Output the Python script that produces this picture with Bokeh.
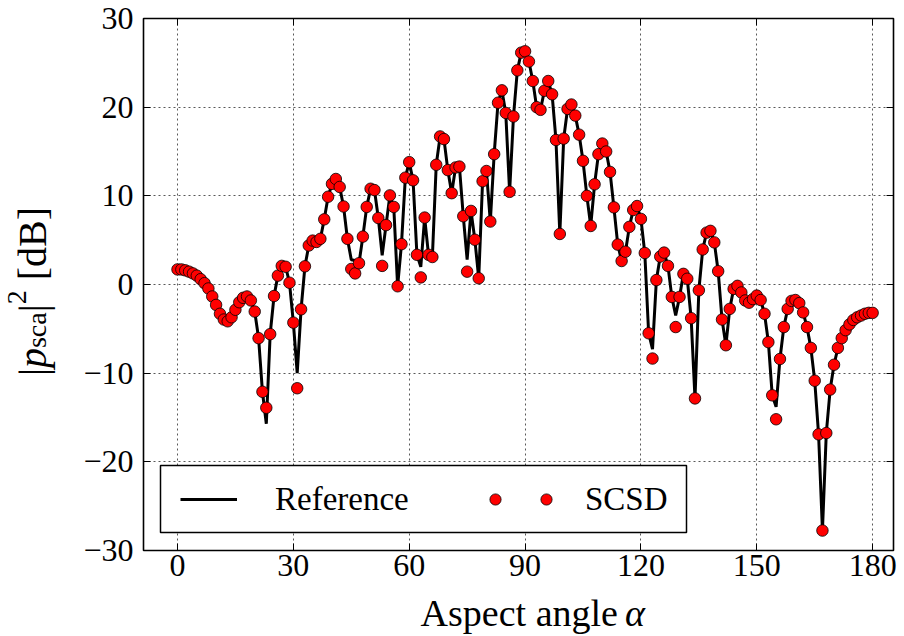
import math
from bokeh.plotting import figure
from bokeh.layouts import row, column
from bokeh.models import (Range1d, LinearAxis, FixedTicker, Label, Legend,
                          LegendItem, BoxAnnotation)
from bokeh.embed import file_html
from bokeh.resources import INLINE

# ---------------- data ----------------
angles = list(range(0, 181))

scsd = [
    1.7, 1.7, 1.6, 1.45, 1.25, 1.0, 0.6, 0.15, -0.45, -1.35,
    -2.3, -3.3, -3.95, -4.15, -3.7, -2.85, -2.0, -1.5, -1.35, -1.8,
    -3.05, -6.05, -12.1, -13.9, -5.6, -1.3, 1.0, 2.1, 2.0, 0.2,
    -4.3, -11.7, -2.8, 2.05, 4.4, 4.95, 4.8, 5.15, 7.35, 9.9,
    11.35, 11.9, 11.0, 8.8, 5.15, 1.75, 1.25, 2.4, 5.4, 8.75,
    10.8, 10.65, 7.5, 2.1, 6.7, 10.05, 8.75, -0.2, 4.55, 12.05,
    13.8, 11.75, 3.35, 0.8, 7.55, 3.35, 3.1, 13.5, 16.7, 16.4,
    12.9, 10.3, 13.2, 13.3, 7.7, 1.45, 8.3, 5.05, 0.7, 11.65,
    12.8, 7.1, 14.7, 20.5, 21.9, 19.35, 10.45, 18.95, 24.15, 26.15,
    26.3, 25.15, 22.95, 20.0, 19.7, 21.85, 22.95, 21.45, 16.3, 5.7,
    16.45, 19.8, 20.3, 19.05, 16.9, 13.95, 10.0, 6.6, 11.3, 14.7,
    15.9, 15.0, 12.7, 8.7, 4.5, 2.65, 3.7, 6.5, 8.4, 8.85,
    7.4, 3.55, -5.5, -8.35, 0.5, 3.15, 3.6, 2.1, -1.4, -4.8,
    -1.4, 1.2, 0.65, -3.8, -12.85, -0.65, 3.95, 5.85, 6.05, 4.75,
    1.5, -3.95, -6.85, -2.75, -0.5, -0.15, -0.9, -1.8, -2.05, -1.65,
    -1.25, -1.75, -3.3, -6.5, -12.5, -15.2, -8.4, -4.8, -2.75, -1.85,
    -1.75, -2.1, -3.15, -4.8, -7.15, -10.85, -16.9, -27.75, -16.75, -11.85,
    -9.05, -7.15, -6.05, -5.15, -4.5, -4.0, -3.7, -3.5, -3.3, -3.2,
    -3.2,
]

reference = [
    1.7, 1.7, 1.6, 1.45, 1.25, 1.0, 0.6, 0.15, -0.45, -1.35,
    -2.3, -3.3, -3.95, -4.15, -3.7, -2.85, -2.0, -1.5, -1.35, -1.8,
    -3.05, -6.05, -12.1, -15.7, -5.6, -1.3, 1.0, 2.1, 2.0, 0.2,
    -4.3, -10.0, -2.8, 2.05, 4.4, 4.95, 4.8, 5.15, 7.35, 9.9,
    11.35, 11.9, 11.0, 8.8, 5.15, 2.8, 2.7, 2.4, 5.4, 8.75,
    10.8, 10.65, 7.5, 3.3, 6.7, 10.05, 8.75, -0.2, 4.55, 12.05,
    13.8, 11.75, 3.35, 2.0, 7.55, 3.35, 3.1, 13.5, 16.7, 16.4,
    12.9, 10.3, 13.2, 13.3, 7.7, 2.8, 8.3, 5.05, 0.7, 11.65,
    12.8, 7.1, 14.7, 20.5, 21.9, 19.35, 10.45, 18.95, 24.15, 26.15,
    26.3, 25.15, 22.95, 20.0, 19.7, 21.85, 22.95, 21.45, 16.3, 5.7,
    16.45, 19.8, 20.3, 19.05, 16.9, 13.95, 10.0, 6.6, 11.3, 14.7,
    15.9, 15.0, 12.7, 8.7, 4.5, 2.65, 3.7, 6.5, 8.4, 8.85,
    7.4, 3.55, -5.5, -7.3, 0.5, 3.15, 3.6, 2.1, -1.4, -3.5,
    -1.4, 1.2, 0.65, -3.8, -12.85, -0.65, 3.95, 5.85, 6.05, 4.75,
    1.5, -3.95, -6.85, -2.75, -0.5, -0.15, -0.9, -1.8, -2.05, -1.65,
    -1.25, -1.75, -3.3, -6.5, -12.5, -13.8, -8.4, -4.8, -2.75, -1.85,
    -1.75, -2.1, -3.15, -4.8, -7.15, -10.85, -16.9, -27.75, -16.75, -11.85,
    -9.05, -7.15, -6.05, -5.15, -4.5, -4.0, -3.7, -3.5, -3.3, -3.2,
    -3.2,
]

x_ticks = [0, 30, 60, 90, 120, 150, 180]
y_ticks = [-30, -20, -10, 0, 10, 20, 30]
y_tick_labels = ["\u221230", "\u221220", "\u221210", "0", "10", "20", "30"]

legend_labels = ["Reference", "SCSD"]
x_title = "Aspect angle"
x_title_symbol = "\u03b1"

# ---------------- sizes ----------------
FONT = "Liberation Serif"
TICK_SIZE = "32px"
TITLE = 40
XTITLE = 38
SUB = 28
YT_W = 63          # width of the y-title strip
MAIN_W = 904 - YT_W
MAIN_H = 590
XT_H = 636 - MAIN_H


def bare(fig):
    fig.outline_line_color = None
    fig.background_fill_color = "white"
    fig.border_fill_color = "white"
    fig.grid.visible = False
    return fig


# ---------------- main figure ----------------
p = figure(width=MAIN_W, height=MAIN_H, output_backend="svg", toolbar_location=None,
           x_range=Range1d(-8.8, 185.4), y_range=Range1d(-30, 30),
           min_border_left=143 - YT_W, min_border_right=11, min_border_top=18,
           min_border_bottom=MAIN_H - 18 - 532)
p.background_fill_color = "white"
p.border_fill_color = "white"
p.outline_line_color = "black"
p.outline_line_width = 1.6

xt = FixedTicker(ticks=x_ticks)
yt = FixedTicker(ticks=y_ticks)

for ax in (p.xaxis[0], p.yaxis[0]):
    ax.major_tick_in = 7
    ax.major_tick_out = 0
    ax.minor_tick_line_color = None
    ax.axis_line_color = None
    ax.major_tick_line_color = "black"
    ax.major_tick_line_width = 1
    ax.major_label_text_font = FONT
    ax.major_label_text_font_size = TICK_SIZE
    ax.major_label_text_color = "black"
p.xaxis[0].ticker = xt
p.yaxis[0].ticker = yt
p.xaxis[0].major_label_standoff = 4
p.yaxis[0].major_label_standoff = 10
p.yaxis[0].major_label_overrides = {t: l for t, l in zip(y_ticks, y_tick_labels)}

top_axis = LinearAxis(ticker=xt, major_tick_in=7, major_tick_out=0,
                      minor_tick_line_color=None, axis_line_color=None,
                      major_label_overrides={t: "" for t in x_ticks},
                      major_label_text_color=None, major_label_standoff=0)
right_axis = LinearAxis(ticker=yt, major_tick_in=7, major_tick_out=0,
                        minor_tick_line_color=None, axis_line_color=None,
                        major_label_overrides={t: "" for t in y_ticks},
                        major_label_text_color=None, major_label_standoff=0)
p.add_layout(top_axis, "above")
p.add_layout(right_axis, "right")

for g in (p.xgrid[0], p.ygrid[0]):
    g.grid_line_color = "black"
    g.grid_line_alpha = 0.65
    g.grid_line_dash = "2 3"
    g.grid_line_width = 1
p.xgrid[0].ticker = xt
p.ygrid[0].ticker = yt

# ---------------- glyphs ----------------
line_r = p.line(angles, reference, line_color="black", line_width=3)
pts_r = p.scatter(angles, scsd, size=11.5, marker="circle", fill_color="red",
                  line_color="black", line_width=0.8)

# ---------------- legend ----------------
box = BoxAnnotation(left=17, right=543, bottom=18, top=85,
                    left_units="screen", right_units="screen",
                    top_units="screen", bottom_units="screen",
                    fill_color="white", fill_alpha=1.0,
                    line_color="black", line_alpha=1.0, line_width=1.5)
p.add_layout(box)

common = dict(orientation="horizontal", glyph_height=38,
              label_text_font=FONT, label_text_font_size="33px",
              label_text_color="black", border_line_color=None,
              background_fill_alpha=0, padding=0, margin=0, spacing=0,
              label_width=0)
leg_a = Legend(items=[LegendItem(label=legend_labels[0], renderers=[line_r])],
               location=(37, 32), glyph_width=57, label_standoff=38, **common)
leg_b1 = Legend(items=[LegendItem(label=" ", renderers=[pts_r])],
                location=(338, 32), glyph_width=28, label_standoff=0, **common)
leg_b2 = Legend(items=[LegendItem(label=legend_labels[1], renderers=[pts_r])],
                location=(389, 32), glyph_width=28, label_standoff=25, **common)
p.add_layout(leg_a)
p.add_layout(leg_b1)
p.add_layout(leg_b2)

# ---------------- y title strip ----------------
yfig = bare(figure(width=YT_W, height=636, output_backend="svg", toolbar_location=None,
                   x_range=Range1d(0, YT_W), y_range=Range1d(0, 636),
                   x_axis_type=None, y_axis_type=None,
                   min_border_left=0, min_border_right=0,
                   min_border_top=0, min_border_bottom=0))
pieces = [
    ("|", TITLE, "normal", 0, 0.2),
    ("p", TITLE, "italic", 0, 0.5),
    ("sca", SUB, "normal", 4, 1.277),
    ("|", TITLE, "normal", 0, 0.2),
    ("2", SUB, "normal", -16, 0.5),
    ("\u00a0[dB]", TITLE, "normal", 0, 2.083),
]
total = sum(sz * em for _, sz, _, _, em in pieces)
ypos = (636 - 291) - total / 2
base_x = 32
for txt, sz, style, dx, em in pieces:
    yfig.add_layout(Label(x=base_x + dx, y=ypos, text=txt, angle=math.pi / 2,
                          text_align="left", text_baseline="middle",
                          text_font=FONT, text_font_style=style,
                          text_font_size=f"{sz}px", text_color="black"))
    ypos += sz * em

# ---------------- x title strip ----------------
xfig = bare(figure(width=MAIN_W, height=XT_H, output_backend="svg", toolbar_location=None,
                   x_range=Range1d(YT_W, 904), y_range=Range1d(0, XT_H),
                   x_axis_type=None, y_axis_type=None,
                   min_border_left=0, min_border_right=0,
                   min_border_top=0, min_border_bottom=0))
mid_y = 24
xfig.add_layout(Label(x=595, y=mid_y, text=x_title, text_align="right",
                      text_baseline="middle", text_font=FONT,
                      text_font_size=f"{XTITLE}px", text_color="black"))
xfig.add_layout(Label(x=603, y=mid_y, text=x_title_symbol, text_align="left",
                      text_baseline="middle", text_font=FONT,
                      text_font_style="italic", text_font_size=f"{XTITLE}px",
                      text_color="black"))

layout = row(yfig, column(p, xfig, spacing=0), spacing=0)
open("out.html", "w").write(file_html(layout, INLINE))
